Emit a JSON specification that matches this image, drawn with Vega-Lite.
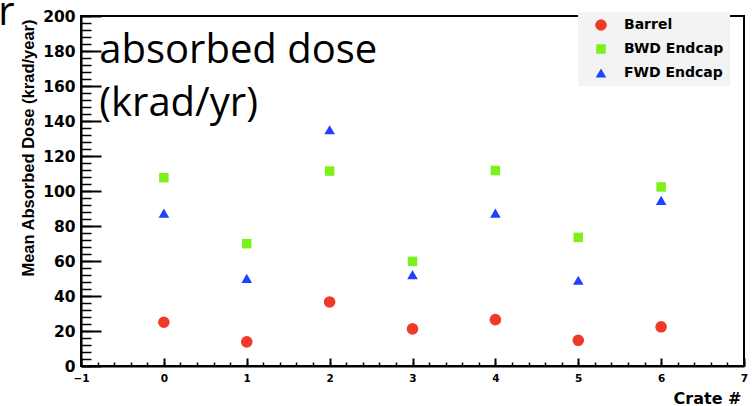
{
  "$schema": "https://vega.github.io/schema/vega-lite/v6.json",
  "width": 663,
  "height": 350,
  "autosize": {"type": "none"},
  "padding": {"left": 81, "top": 16, "right": 9, "bottom": 40},
  "background": "white",
  "config": {
    "view": {"stroke": "black", "strokeWidth": 2},
    "axis": {"grid": false}
  },
  "data": {
    "values": [
      {"crate": 0, "dose": 25.0, "region": "Barrel"},
      {"crate": 1, "dose": 13.8, "region": "Barrel"},
      {"crate": 2, "dose": 36.6, "region": "Barrel"},
      {"crate": 3, "dose": 21.2, "region": "Barrel"},
      {"crate": 4, "dose": 26.5, "region": "Barrel"},
      {"crate": 5, "dose": 14.7, "region": "Barrel"},
      {"crate": 6, "dose": 22.4, "region": "Barrel"},
      {"crate": 0, "dose": 107.6, "region": "BWD Endcap"},
      {"crate": 1, "dose": 69.9, "region": "BWD Endcap"},
      {"crate": 2, "dose": 111.4, "region": "BWD Endcap"},
      {"crate": 3, "dose": 59.8, "region": "BWD Endcap"},
      {"crate": 4, "dose": 111.7, "region": "BWD Endcap"},
      {"crate": 5, "dose": 73.5, "region": "BWD Endcap"},
      {"crate": 6, "dose": 102.3, "region": "BWD Endcap"},
      {"crate": 0, "dose": 87.4, "region": "FWD Endcap"},
      {"crate": 1, "dose": 50.1, "region": "FWD Endcap"},
      {"crate": 2, "dose": 135.0, "region": "FWD Endcap"},
      {"crate": 3, "dose": 52.2, "region": "FWD Endcap"},
      {"crate": 4, "dose": 87.4, "region": "FWD Endcap"},
      {"crate": 5, "dose": 49.0, "region": "FWD Endcap"},
      {"crate": 6, "dose": 94.6, "region": "FWD Endcap"}
    ]
  },
  "layer": [
    {
      "mark": {"type": "point", "filled": true, "opacity": 1, "strokeWidth": 0},
      "encoding": {
        "x": {
          "field": "crate", "type": "quantitative",
          "scale": {"domain": [-1, 7], "nice": false, "zero": false},
          "axis": {
            "values": [-1, 0, 1, 2, 3, 4, 5, 6, 7],
            "title": "Crate #",
            "titleFont": "DejaVu Sans", "titleFontWeight": "bold", "titleFontSize": 16, "titleColor": "black",
            "titleAnchor": "end", "titleAlign": "right", "titleX": 660, "titleY": 37, "titleBaseline": "alphabetic",
            "labelFont": "DejaVu Sans", "labelFontWeight": "bold", "labelFontSize": 10.5, "labelColor": "black",
            "labelPadding": 15, "labelFlush": false, "labelOverlap": false,
            "tickSize": -8, "tickWidth": 2, "tickColor": "black",
            "domainColor": "black", "domainWidth": 2
          }
        },
        "y": {
          "field": "dose", "type": "quantitative",
          "scale": {"domain": [0, 200], "nice": false, "zero": false},
          "axis": {
            "values": [0, 20, 40, 60, 80, 100, 120, 140, 160, 180, 200],
            "title": "Mean Absorbed Dose (krad/year)",
            "titleFont": "Liberation Sans", "titleFontWeight": "bold", "titleFontSize": 16.5, "titleColor": "black",
            "titleAnchor": "end", "titlePadding": 6, "titleY": 3,
            "labelFont": "DejaVu Sans", "labelFontWeight": "bold", "labelFontSize": 15.5, "labelColor": "black",
            "labelPadding": 26, "labelFlush": false, "labelOverlap": false,
            "tickSize": -20, "tickWidth": 2, "tickColor": "black",
            "domainColor": "black", "domainWidth": 2
          }
        },
        "color": {
          "field": "region", "type": "nominal",
          "scale": {"domain": ["Barrel", "BWD Endcap", "FWD Endcap"], "range": ["#ef3a2a", "#7cf01a", "#1f40ff"]},
          "legend": {
            "orient": "none", "legendX": 497, "legendY": -4, "title": null,
            "fillColor": "#f3f3f3", "padding": 6, "symbolOffset": 10, "labelOffset": 16, "rowPadding": 10,
            "labelFont": "DejaVu Sans", "labelFontWeight": "bold", "labelFontSize": 14, "labelColor": "black",
            "labelExpr": "datum.label == 'BWD Endcap' ? '\u00a0BWD Endcap' : datum.label"
          }
        },
        "shape": {
          "field": "region", "type": "nominal",
          "scale": {"domain": ["Barrel", "BWD Endcap", "FWD Endcap"], "range": ["circle", "square", "triangle-up"]}
        },
        "size": {
          "field": "region", "type": "nominal",
          "scale": {"type": "ordinal", "domain": ["Barrel", "BWD Endcap", "FWD Endcap"], "range": [135, 90, 112]}
        }
      }
    },
    {
      "mark": {"type": "point", "opacity": 0},
      "encoding": {
        "x": {
          "field": "crate", "type": "quantitative",
          "scale": {"domain": [-1, 7], "nice": false, "zero": false},
          "axis": {
            "orient": "bottom",
            "values": [-1, -0.8, -0.6, -0.4, -0.2, 0, 0.2, 0.4, 0.6, 0.8, 1, 1.2, 1.4, 1.6, 1.8, 2, 2.2, 2.4, 2.6, 2.8, 3, 3.2, 3.4, 3.6, 3.8, 4, 4.2, 4.4, 4.6, 4.8, 5, 5.2, 5.4, 5.6, 5.8, 6, 6.2, 6.4, 6.6, 6.8, 7],
            "labels": false, "domain": false, "title": null,
            "tickSize": -4, "tickWidth": 1.5, "tickColor": "black"
          }
        },
        "y": {
          "field": "dose", "type": "quantitative",
          "scale": {"domain": [0, 200], "nice": false, "zero": false},
          "axis": {
            "orient": "left",
            "values": [0, 4, 8, 12, 16, 20, 24, 28, 32, 36, 40, 44, 48, 52, 56, 60, 64, 68, 72, 76, 80, 84, 88, 92, 96, 100, 104, 108, 112, 116, 120, 124, 128, 132, 136, 140, 144, 148, 152, 156, 160, 164, 168, 172, 176, 180, 184, 188, 192, 196, 200],
            "labels": false, "domain": false, "title": null,
            "tickSize": -10, "tickWidth": 1.5, "tickColor": "black"
          }
        }
      }
    },
    {
      "data": {"values": [{}]},
      "mark": {
        "type": "text", "text": ["absorbed dose", "(krad/yr)"],
        "font": "Open Sans", "fontSize": 40, "lineHeight": 53,
        "align": "left", "baseline": "alphabetic", "color": "black", "clip": false
      },
      "encoding": {
        "x": {"datum": -0.78, "type": "quantitative", "axis": null},
        "y": {"datum": 173.3, "type": "quantitative", "axis": null}
      }
    },
    {
      "data": {"values": [{}]},
      "mark": {
        "type": "text", "text": "r",
        "font": "Open Sans", "fontSize": 40,
        "align": "left", "baseline": "alphabetic", "color": "black", "clip": false
      },
      "encoding": {
        "x": {"datum": -2.0, "type": "quantitative", "axis": null},
        "y": {"datum": 195.1, "type": "quantitative", "axis": null}
      }
    }
  ],
  "resolve": {"axis": {"x": "independent", "y": "independent"}}
}
